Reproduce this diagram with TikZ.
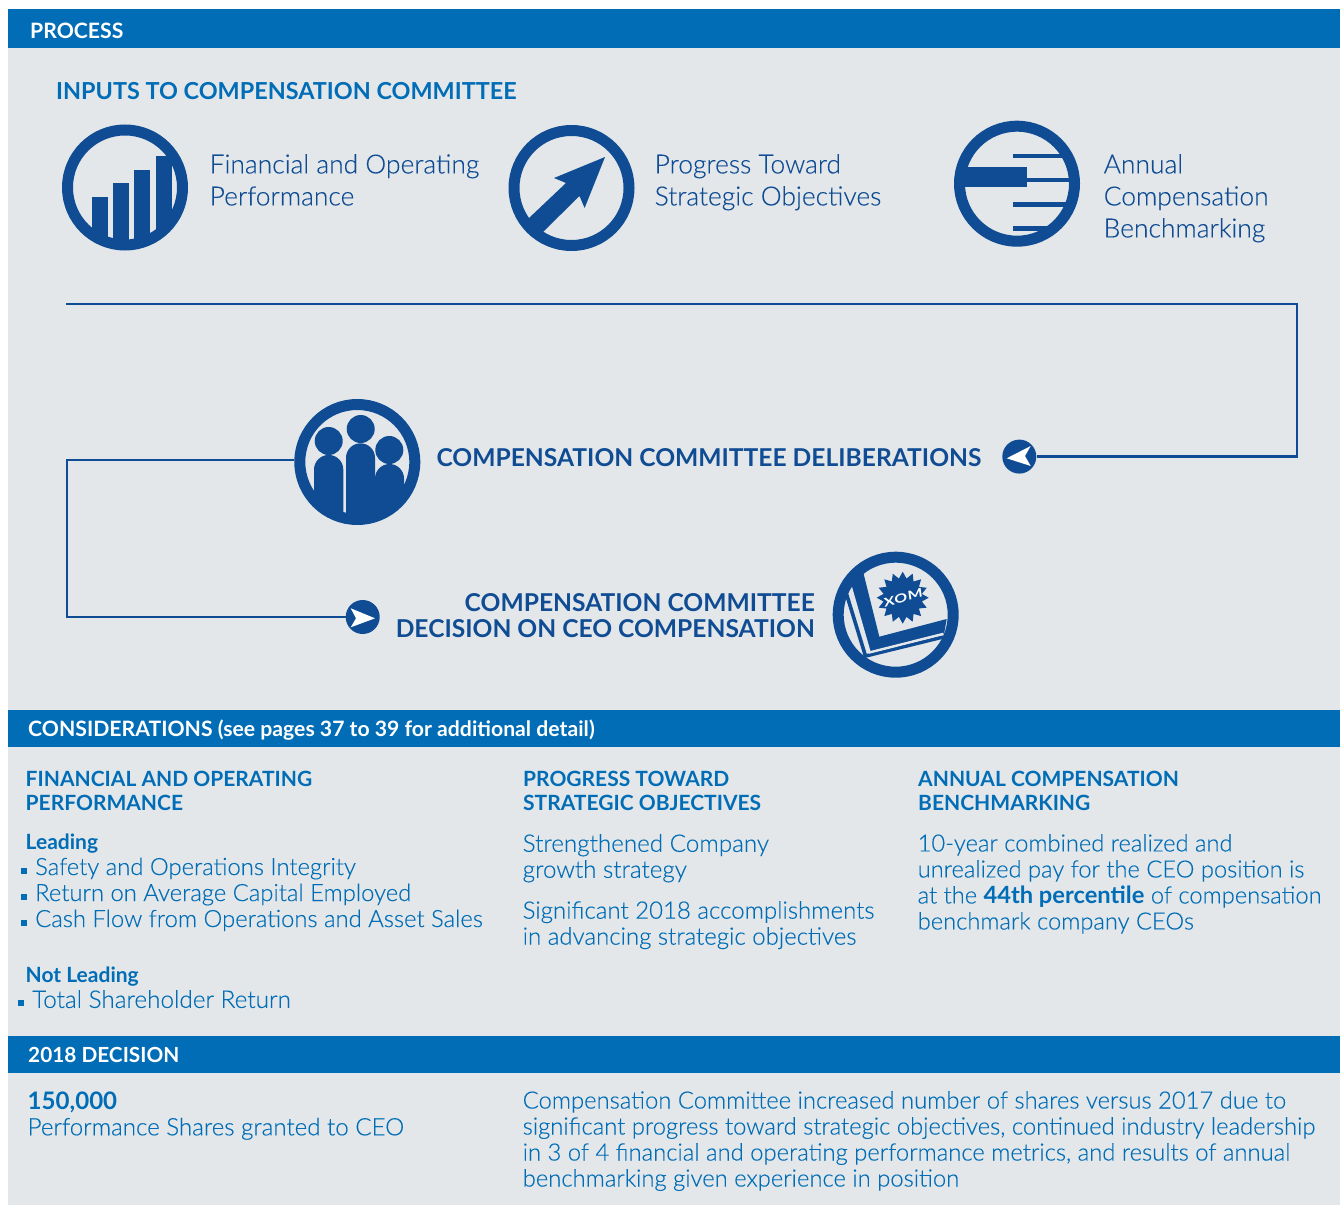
\documentclass[tikz,border=0pt]{standalone}
\usepackage{fontspec}
\setmainfont{Lato}[UprightFont=* Light,BoldFont=* Bold,UprightFeatures={FakeBold=0.25}]
\newfontfamily\hfont{Lato}[UprightFont=* Bold]
\newfontfamily\xomfont{Lato}[UprightFont=* Bold,FakeStretch=1.35,FakeSlant=0.12,LetterSpace=4]
\definecolor{band}{HTML}{006DB6}
\definecolor{panel}{HTML}{E3E7EA}
\definecolor{navy}{HTML}{0F4C93}
\newcommand{\fz}[2]{\fontsize{#1}{#2}\selectfont}
\newcommand{\bul}{\rule[1.5pt]{6pt}{6pt}\hspace{8pt}}
\tikzset{
  x=1pt,y=-1pt,
  bandbox/.style={fill=band,draw=none},
  ring/.style={circle,draw=navy,line width=11pt,minimum size=115pt,inner sep=0pt},
  icf/.style={fill=navy,draw=none},
  flow/.style={draw=navy,line width=2.5pt},
  dot/.style={circle,fill=navy,minimum size=34pt,inner sep=0pt},
  bandtxt/.style={anchor=base west,text=white,font=\hfont\fz{21.2}{25},inner sep=0pt},
  lead/.style={anchor=north west,align=left,text=navy,font=\fz{26.4}{32},inner sep=0pt},
  head/.style={anchor=north west,align=left,text=band,font=\hfont\fz{21}{24},inner sep=0pt},
  subhead/.style={anchor=north west,align=left,text=band,font=\hfont\fz{21}{26},inner sep=0pt},
  body/.style={anchor=north west,align=left,text=band,font=\fz{23.8}{26},inner sep=0pt},
  title/.style={anchor=base,align=right,text=navy,font=\hfont\fz{24.6}{26},inner sep=0pt},
}
\begin{document}
\begin{tikzpicture}
\useasboundingbox (0,0) rectangle (1340,1206);
\fill[white] (0,0) rectangle (1340,1206);
\fill[panel] (8,9) rectangle (1340,1205);
\fill[bandbox] (8,9) rectangle (1340,48);
\fill[bandbox] (8,710) rectangle (1340,747);
\fill[bandbox] (8,1036) rectangle (1340,1073);
\node[bandtxt] (h1) at (30,38.5) {PROCESS};
\node[bandtxt] (h2) at (28,736.5) {CONSIDERATIONS (see pages 37 to 39 for additional detail)};
\node[bandtxt,font=\hfont\fz{20.8}{25}] (h3) at (28,1062) {2018 DECISION};
\node[anchor=base west,text=band,font=\hfont\fz{23.4}{28},inner sep=0pt] (t1) at (56,99.5) {INPUTS TO COMPENSATION COMMITTEE};

% icon 1
\begin{scope}
\clip (125,187.5) circle (60);
\fill[icf] (92,197) rectangle (108,260);
\fill[icf] (113,183) rectangle (129,260);
\fill[icf] (134,170) rectangle (150,260);
\fill[icf] (155.5,156) rectangle (171.6,260);
\end{scope}
\node[ring] (i1) at (125,187.5) {};
\node[lead] (l1) at (209.5,154) {Financial and Operating\\Performance};

% icon 2
\node[ring] (i2) at (571.5,188) {};
\fill[icf] (605,157) -- (554,178) -- (566,183) -- (529,218) -- (533,226) -- (543,232) -- (579.5,196) -- (584.6,208) -- cycle;
\node[lead] (l2) at (654.5,154) {Progress Toward\\Strategic Objectives};

% icon 3
\begin{scope}
\clip (1017,183.7) circle (60);
\fill[icf] (1012.7,153.7) rectangle (1080,158.3);
\fill[icf] (950,167.3) rectangle (1027,186.7);
\fill[icf] (1027,178) rectangle (1080,182);
\fill[icf] (1012.7,202.3) rectangle (1080,206.7);
\fill[icf] (1012.7,226.3) rectangle (1080,230.7);
\end{scope}
\node[ring] (i3) at (1017,183.7) {};
\node[lead] (l3) at (1103.5,154) {Annual\\Compensation\\Benchmarking};

% icon 4: people
\begin{scope}
\clip (357.3,462) circle (60);
\fill[icf] (314,530) -- (314,469.6) arc[start angle=180,end angle=360,radius=14.65] -- (343.3,530) -- cycle;
\fill[icf] (346,530) -- (346,457.8) arc[start angle=180,end angle=360,radius=14.5] -- (375,530) -- cycle;
\fill[icf] (375,530) -- (375,478.5) arc[start angle=180,end angle=360,radius=14.5] -- (404,530) -- cycle;
\fill[icf] (328.7,441) circle (14);
\fill[icf] (360.7,429) circle (14);
\fill[icf] (389.3,450) circle (14);
\fill[icf] (300,512.7) rectangle (420,530);
\end{scope}
\node[ring] (i4) at (357.3,462) {};
\node[title] (d1) at (709,466.5) {COMPENSATION COMMITTEE DELIBERATIONS};

% icon 5: book
\begin{scope}
\clip (895.7,614.7) circle (60);
\fill[icf] (863.3,572.7) -- (879.3,636.7) -- (946.7,619) -- (944,634) -- (870,652.7) -- (850.7,586.7) -- (848,560) -- (860,560) -- cycle;
\end{scope}
\draw[navy,line width=3.6pt] (846.5,594) -- (865.5,656) -- (943,637);
\draw[panel,line width=2.4pt] (850.5,586) -- (869.6,652.4) -- (943.5,633.8);
\node[ring] (i5) at (895.7,614.7) {};
\fill[icf] plot[samples at={0,11.25,...,349},variable=\a]
  ({902.7+(26-6.5*mod(round(\a/11.25),2))*cos(\a)},{597.7+(26-6.5*mod(round(\a/11.25),2))*sin(\a)}) -- cycle;
\node[rotate=15,text=white,font=\xomfont\fz{12}{14},inner sep=0pt] (x1) at (902.7,597.7) {XOM};
\node[title,anchor=north east] (d2) at (815,593) {COMPENSATION COMMITTEE\\DECISION ON CEO COMPENSATION};

% arrow dots
\node[dot] (a1) at (1019.3,456.6) {};
\fill[white] (1006.7,458.3) -- (1030.7,446) -- (1025,456) -- (1030.7,466) -- cycle;
\node[dot] (a2) at (362.7,617) {};
\fill[white] (375,618.3) -- (350.7,608.3) -- (356,618.3) -- (350.7,627.3) -- cycle;

% connectors
\coordinate (c0) at (66,304);
\coordinate (c1) at (1297,304);
\coordinate (c2) at (1297,456.6);
\draw[flow] (a1.east) -- (c2) -- (c1) -- (c0);
\coordinate (c3) at (67,460);
\coordinate (c4) at (67,617);
\draw[flow] (i4.west |- c3) -- (c3) -- (c4) -- (a2.west);

% considerations
\node[head] (a) at (25.5,771) {FINANCIAL AND OPERATING\\PERFORMANCE};
\node[head] (b) at (523,771) {PROGRESS TOWARD\\STRATEGIC OBJECTIVES};
\node[head] (c) at (918,771) {ANNUAL COMPENSATION\\BENCHMARKING};
\node[subhead] (a1h) at (25.5,834) {Leading};
\node[body] (a1b) at (21,857.5) {\bul Safety and Operations Integrity\\\bul Return on Average Capital Employed\\\bul Cash Flow from Operations and Asset Sales};
\node[subhead] (a2h) at (25.5,967) {Not Leading};
\node[body,font=\fz{24.3}{26}] (a2b) at (18,990) {\bul Total Shareholder Return};
\node[body,font=\fz{24.2}{26}] (b1) at (522.5,834) {Strengthened Company\\growth strategy};
\node[body,font=\fz{24}{26}] (b2) at (522.5,901) {Significant 2018 accomplishments\\in advancing strategic objectives};
\node[body,font=\fz{23.7}{26}] (c1t) at (917.5,834) {10-year combined realized and\\unrealized pay for the CEO position is\\at the \textbf{44th percentile} of compensation\\benchmark company CEOs};

% decision
\node[body,font=\fz{24.1}{26}] (e1) at (27.5,1091.5) {\textbf{150,000}\\Performance Shares granted to CEO};
\node[body,font=\fz{23.8}{26}] (e2) at (522.5,1091) {Compensation Committee increased number of shares versus 2017 due to\\significant progress toward strategic objectives, continued industry leadership\\in 3 of 4 financial and operating performance metrics, and results of annual\\benchmarking given experience in position};
\end{tikzpicture}
\end{document}
